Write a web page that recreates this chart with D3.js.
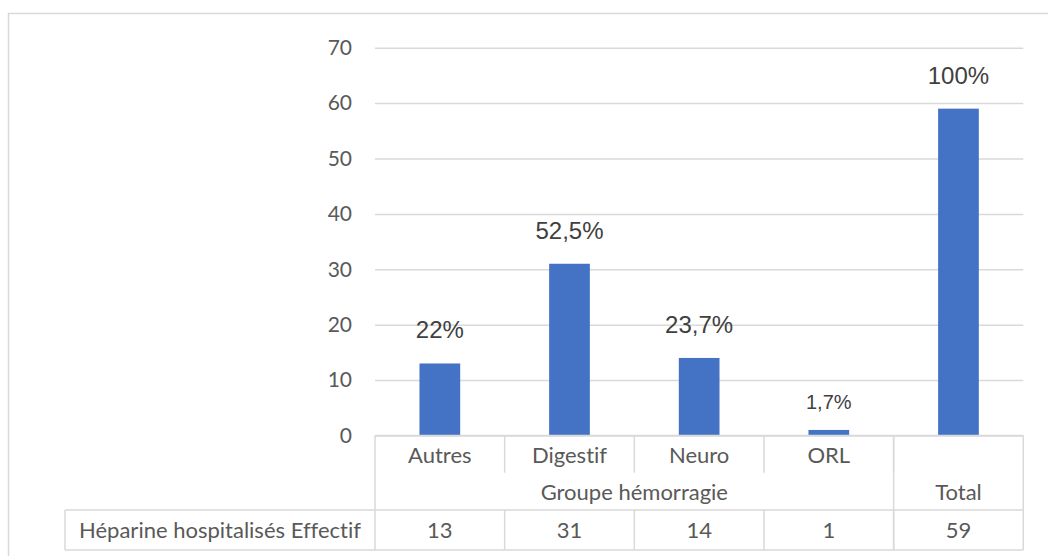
<!DOCTYPE html>
<html>
<head>
<meta charset="utf-8">
<title></title>
<style type="text/css">
  body { margin: 0; background: #fff; }
  svg { display: block; }
  text { font-variant-ligatures: none; }
</style>
<script src="https://cdn.jsdelivr.net/npm/d3@7"></script>
</head>
<body>
<svg height="556" width="1048"></svg>
<script>
// data
var categories = ["Autres", "Digestif", "Neuro", "ORL", "Total"];
var values = [13, 31, 14, 1, 59];
var percentLabels = ["22%", "52,5%", "23,7%", "1,7%", "100%"];
var groupNames = ["Groupe hémorragie", "Total"];
var groupSpans = [4, 1];
var rowLabel = "Héparine hospitalisés Effectif";
var yTicks = [0, 10, 20, 30, 40, 50, 60, 70];

var svg = d3.select("svg");
var grey = "#d9d9d9";
var calibri = "Lato, 'Open Sans', sans-serif";

// outer frame (runs off the right / bottom edge)
svg.append("rect")
  .attr("x", 8.5).attr("y", 13.5)
  .attr("width", 1100).attr("height", 600)
  .attr("fill", "none").attr("stroke", grey).attr("stroke-width", 1.5);

var x = d3.scaleBand().domain(categories).range([375, 1023.3]).paddingInner(0).paddingOuter(0);
var bw = x.bandwidth() * 0.314;
var y = d3.scaleLinear().domain([0, 70]).range([435.5, 47.7]);

// gridlines + tick labels through d3.axisLeft
var axis = svg.append("g")
  .attr("transform", "translate(375,0)")
  .call(d3.axisLeft(y).tickValues(yTicks).tickSize(-(1023.3 - 375)).tickPadding(23));
axis.select(".domain").remove();
axis.selectAll(".tick line").attr("stroke", grey).attr("stroke-width", 1.5);
axis.selectAll(".tick text")
  .attr("fill", "#595959")
  .style("font-family", calibri)
  .style("font-size", "21px");

// bars
svg.append("g").selectAll("rect")
  .data(values)
  .enter()
  .append("rect")
  .attr("x", function(d, i) { return x(categories[i]) + (x.bandwidth() - bw) / 2; })
  .attr("y", function(d) { return y(d); })
  .attr("width", bw)
  .attr("height", function(d) { return y(0) - y(d); })
  .attr("fill", "#4472c4");

// percent labels
svg.append("g").selectAll("text")
  .data(values)
  .enter()
  .append("text")
  .attr("x", function(d, i) { return x(categories[i]) + x.bandwidth() / 2; })
  .attr("y", function(d) { return y(d) - (d < 5 ? 21 : 25); })
  .attr("text-anchor", "middle")
  .attr("fill", "#404040")
  .style("font-family", "'Liberation Sans', Arial, sans-serif")
  .style("font-size", function(d) { return d < 5 ? "20px" : "24px"; })
  .text(function(d, i) { return percentLabels[i]; });

// data table under the axis
var t = svg.append("g").attr("stroke", grey).attr("stroke-width", 1.5);
var x0 = x.range()[0], x1 = x.range()[1];
var rowTop = 435.5, catBottom = 472.7, dataTop = 510, dataBottom = 550, labelLeft = 65;

function line(ax, ay, bx, by) {
  t.append("line").attr("x1", ax).attr("y1", ay).attr("x2", bx).attr("y2", by);
}
line(x0, rowTop, x1, rowTop);
line(labelLeft, dataTop, x1, dataTop);
line(labelLeft, dataBottom, x1, dataBottom);
line(labelLeft, dataTop, labelLeft, dataBottom);
line(x0, rowTop, x0, dataBottom);
line(x1, rowTop, x1, dataBottom);

// dividers: short ones inside a group, full height at group edges
var edge = 0;
groupSpans.forEach(function(s) { edge += s; var bx = x(categories[edge]); if (bx !== undefined) line(bx, rowTop, bx, dataBottom); });
categories.forEach(function(c, i) {
  if (i === 0) return;
  line(x(c), rowTop, x(c), catBottom);
  line(x(c), dataTop, x(c), dataBottom);
});

var txt = svg.append("g")
  .attr("fill", "#595959")
  .attr("text-anchor", "middle")
  .style("font-family", calibri)
  .style("font-size", "22px");

// category names (Total has none in this row)
txt.selectAll(".cat")
  .data(categories.slice(0, groupSpans[0]))
  .enter()
  .append("text")
  .attr("x", function(d) { return x(d) + x.bandwidth() / 2; })
  .attr("y", 463)
  .text(function(d) { return d; });

// group names
var start = 0;
groupNames.forEach(function(g, i) {
  var a = x(categories[start]);
  var b = x(categories[start + groupSpans[i] - 1]) + x.bandwidth();
  txt.append("text").attr("x", (a + b) / 2).attr("y", 500).text(g);
  start += groupSpans[i];
});

// values row
txt.selectAll(".val")
  .data(values)
  .enter()
  .append("text")
  .attr("x", function(d, i) { return x(categories[i]) + x.bandwidth() / 2; })
  .attr("y", 538)
  .text(function(d) { return d; });

txt.append("text")
  .attr("x", (labelLeft + x0) / 2)
  .attr("y", 538)
  .text(rowLabel);
</script>
</body>
</html>
